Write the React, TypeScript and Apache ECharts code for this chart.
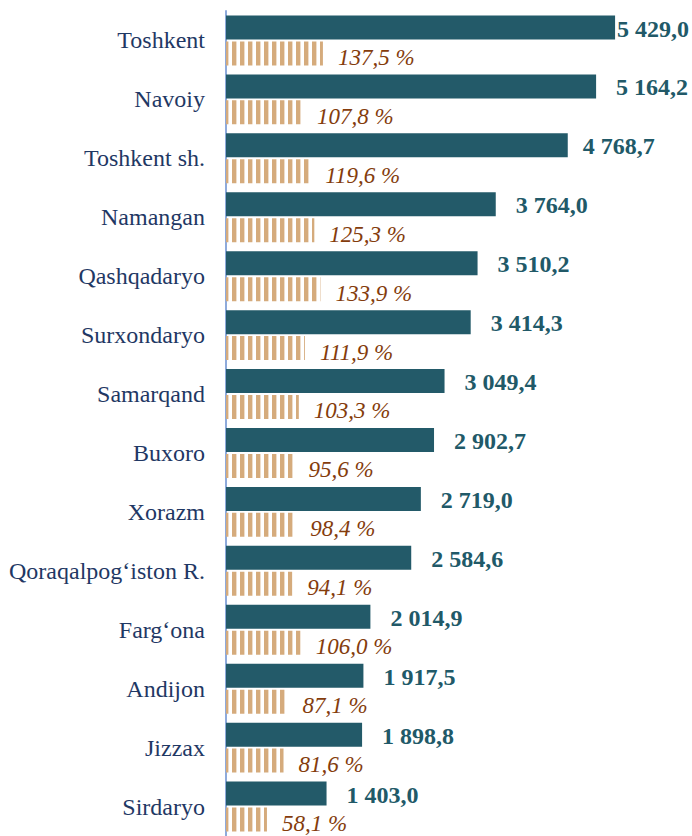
import React, { useEffect, useRef } from 'react';
import * as echarts from 'echarts';

const categories = [
  'Toshkent', 'Navoiy', 'Toshkent sh.', 'Namangan', 'Qashqadaryo', 'Surxondaryo', 'Samarqand',
  'Buxoro', 'Xorazm', 'Qoraqalpog‘iston R.', 'Farg‘ona', 'Andijon', 'Jizzax', 'Sirdaryo',
];
const volumes = [5429.0, 5164.2, 4768.7, 3764.0, 3510.2, 3414.3, 3049.4, 2902.7, 2719.0, 2584.6, 2014.9, 1917.5, 1898.8, 1403.0];
const growth = [137.5, 107.8, 119.6, 125.3, 133.9, 111.9, 103.3, 95.6, 98.4, 94.1, 106.0, 87.1, 81.6, 58.1];

const FONT = 'Liberation Serif';

function fmtVol(v: number): string {
  const [i, d] = v.toFixed(1).split('.');
  return i.replace(/\B(?=(\d{3})+(?!\d))/g, ' ') + ',' + d;
}
function fmtPct(v: number): string {
  return v.toFixed(1).replace('.', ',') + ' %';
}

function makeStripe(): HTMLCanvasElement {
  const c = document.createElement('canvas');
  c.width = 8;
  c.height = 4;
  const ctx = c.getContext('2d')!;
  ctx.fillStyle = '#ffffff';
  ctx.fillRect(0, 0, 8, 4);
  ctx.fillStyle = '#d5ab7c';
  ctx.fillRect(0, 0, 4, 4);
  ctx.globalAlpha = 0.4;
  ctx.fillRect(4, 0, 1, 4);
  return c;
}

const labelDistance: Record<number, number> = { 0: 2, 2: 15 };

export default function App() {
  const ref = useRef<HTMLDivElement>(null);
  useEffect(() => {
    if (!ref.current) return;
    const chart = echarts.init(ref.current, undefined, { renderer: 'svg' });
    const stripe = makeStripe();
    chart.setOption({
      animation: false,
      backgroundColor: '#ffffff',
      textStyle: { fontFamily: FONT },
      grid: { left: 226, width: 430, top: 11, height: 830, containLabel: false },
      xAxis: [
        { type: 'value', min: 0, max: 6000, show: false },
        { type: 'value', min: 0, max: 610, show: false },
      ],
      yAxis: {
        type: 'category',
        inverse: true,
        data: categories,
        axisLine: { show: true, lineStyle: { color: '#8eaadb', width: 2 } },
        axisTick: { show: false },
        axisLabel: { color: '#1f3864', fontSize: 24, fontFamily: FONT, margin: 21 },
        splitLine: { show: false },
      },
      series: [
        {
          type: 'bar',
          xAxisIndex: 0,
          data: volumes.map((v, i) =>
            labelDistance[i] !== undefined ? { value: v, label: { distance: labelDistance[i] } } : v
          ),
          barWidth: 24,
          barGap: '8%',
          itemStyle: { color: '#235a69' },
          label: {
            show: true,
            position: 'right',
            distance: 20,
            offset: [0, 1],
            formatter: (p: any) => fmtVol(p.value),
            color: '#215968',
            fontFamily: FONT,
            fontWeight: 'bold',
            fontSize: 24,
          },
        },
        {
          type: 'bar',
          xAxisIndex: 1,
          data: growth,
          barWidth: 24,
          itemStyle: { color: { image: stripe, repeat: 'repeat', x: 2 } as any },
          label: {
            show: true,
            position: 'right',
            distance: 15,
            offset: [0, 4],
            formatter: (p: any) => fmtPct(p.value),
            color: '#843c0c',
            fontFamily: FONT,
            fontStyle: 'italic',
            fontSize: 23,
          },
        },
      ],
    });
    return () => chart.dispose();
  }, []);
  return (
    <div
      ref={ref}
      style={{ position: 'fixed', left: 0, top: 0, width: 692, height: 836, background: '#fff' }}
    />
  );
}
